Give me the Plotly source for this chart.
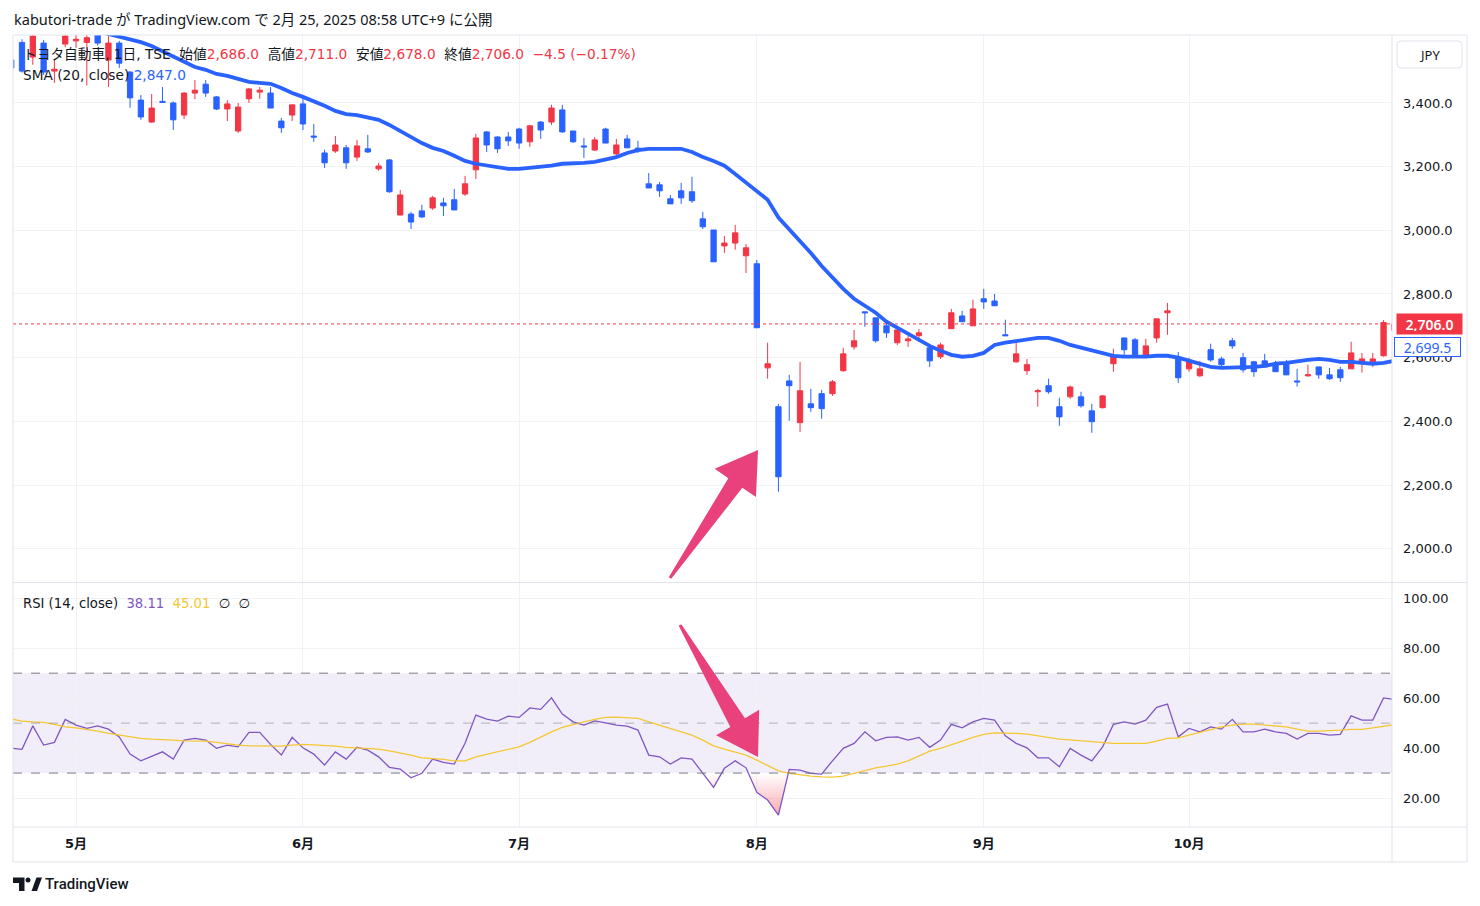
import math
import plotly.graph_objects as go

# ---------------- data ----------------
bar_index = list(range(-1, 128))

opens = [3535, 3590, 3544, 3588, 3500, 3585, 3595, 3590, 3615, 3535,
         3588, 3497, 3409, 3340, 3405, 3400, 3362, 3431, 3459, 3419,
         3381, 3312, 3413, 3434, 3431, 3343, 3362, 3397, 3296, 3243,
         3249, 3259, 3230, 3256, 3193, 3221, 3048, 3051, 3061, 3070,
         3086, 3096, 3114, 3190, 3309, 3293, 3293, 3318, 3278, 3340,
         3340, 3378, 3312, 3265, 3252, 3318, 3240, 3287, 3258, 3146,
         3143, 3099, 3124, 3121, 3036, 3001, 2951, 2960, 2920, 2895,
         2568, 2446, 2527, 2396, 2455, 2487, 2487, 2559, 2634, 2744,
         2725, 2700, 2647, 2653, 2669, 2631, 2603, 2691, 2731, 2700,
         2785, 2778, 2672, 2587, 2559, 2493, 2512, 2446, 2477, 2477,
         2433, 2443, 2581, 2662, 2656, 2603, 2662, 2741, 2596, 2565,
         2543, 2625, 2596, 2653, 2600, 2587, 2590, 2578, 2584, 2527,
         2543, 2571, 2546, 2562, 2565, 2584, 2587, 2606, 2686]
highs = [3545, 3600, 3615, 3598, 3535, 3625, 3620, 3620, 3620, 3620,
         3595, 3500, 3425, 3428, 3450, 3405, 3434, 3472, 3472, 3422,
         3409, 3400, 3447, 3450, 3450, 3353, 3394, 3413, 3334, 3253,
         3296, 3268, 3284, 3300, 3212, 3224, 3127, 3058, 3080, 3108,
         3102, 3130, 3171, 3303, 3312, 3296, 3309, 3322, 3331, 3343,
         3394, 3394, 3312, 3290, 3293, 3322, 3287, 3300, 3281, 3180,
         3152, 3111, 3149, 3168, 3058, 3001, 2982, 3017, 2957, 2907,
         2647, 2455, 2546, 2587, 2502, 2499, 2530, 2631, 2687, 2744,
         2725, 2709, 2697, 2669, 2690, 2631, 2647, 2753, 2747, 2782,
         2816, 2800, 2719, 2650, 2596, 2502, 2534, 2474, 2512, 2493,
         2455, 2483, 2628, 2662, 2662, 2659, 2722, 2772, 2618, 2600,
         2590, 2644, 2603, 2662, 2615, 2590, 2612, 2590, 2593, 2565,
         2578, 2571, 2568, 2571, 2650, 2615, 2615, 2718, 2711]
lows = [3500, 3495, 3520, 3488, 3463, 3575, 3573, 3455, 3580, 3450,
        3510, 3385, 3347, 3338, 3400, 3315, 3350, 3412, 3419, 3378,
        3343, 3306, 3400, 3413, 3384, 3306, 3343, 3315, 3278, 3196,
        3243, 3193, 3218, 3243, 3187, 3118, 3048, 3004, 3039, 3064,
        3045, 3064, 3108, 3161, 3246, 3243, 3265, 3256, 3262, 3287,
        3331, 3306, 3274, 3227, 3249, 3274, 3234, 3259, 3243, 3133,
        3105, 3083, 3083, 3086, 3004, 2901, 2929, 2939, 2866, 2694,
        2534, 2179, 2402, 2367, 2430, 2408, 2480, 2556, 2625, 2697,
        2647, 2662, 2640, 2634, 2650, 2571, 2596, 2691, 2713, 2700,
        2753, 2763, 2669, 2584, 2546, 2446, 2487, 2386, 2471, 2443,
        2364, 2440, 2556, 2606, 2606, 2603, 2647, 2672, 2521, 2556,
        2540, 2587, 2568, 2628, 2553, 2540, 2571, 2556, 2546, 2509,
        2540, 2534, 2530, 2524, 2565, 2553, 2571, 2603, 2678]
closes = [3510, 3500, 3610, 3497, 3506, 3610, 3600, 3605, 3588, 3588,
          3525, 3416, 3356, 3384, 3402, 3347, 3431, 3440, 3431, 3381,
          3397, 3387, 3444, 3440, 3384, 3322, 3394, 3334, 3293, 3212,
          3268, 3212, 3265, 3246, 3202, 3121, 3111, 3026, 3042, 3102,
          3077, 3064, 3146, 3290, 3268, 3256, 3281, 3274, 3328, 3315,
          3384, 3309, 3278, 3262, 3284, 3274, 3268, 3259, 3255, 3133,
          3124, 3083, 3102, 3093, 3011, 2901, 2960, 2992, 2945, 2694,
          2581, 2226, 2512, 2496, 2443, 2440, 2524, 2612, 2653, 2741,
          2653, 2678, 2687, 2659, 2678, 2590, 2640, 2741, 2713, 2753,
          2775, 2763, 2669, 2612, 2578, 2496, 2493, 2414, 2508, 2449,
          2399, 2480, 2606, 2625, 2609, 2637, 2722, 2747, 2537, 2590,
          2565, 2593, 2578, 2637, 2562, 2556, 2571, 2556, 2546, 2524,
          2546, 2546, 2534, 2537, 2615, 2596, 2596, 2710.5, 2706]

sma20 = [None] * 8 + [
    3625, 3617, 3607, 3598, 3591, 3579, 3563, 3548, 3529, 3513,
    3504, 3491, 3485, 3475, 3466, 3463, 3460, 3447, 3431, 3419,
    3406, 3391, 3375, 3365, 3362, 3356, 3347, 3331, 3312, 3293,
    3274, 3259, 3249, 3234, 3218, 3209, 3203, 3196, 3193, 3193,
    3196, 3199, 3203, 3209, 3209, 3212, 3215, 3221, 3230, 3243,
    3252, 3256, 3256, 3256, 3256, 3246, 3230, 3218, 3203, 3177,
    3149, 3124, 3096, 3040, 3004, 2965, 2929, 2888, 2852, 2816,
    2785, 2763, 2741, 2713, 2694, 2675, 2656, 2637, 2622, 2609,
    2603, 2606, 2615, 2640, 2647, 2653, 2659, 2662, 2662, 2653,
    2640, 2631, 2622, 2612, 2606, 2603, 2603, 2603, 2606, 2606,
    2600, 2590, 2581, 2571, 2568, 2568, 2568, 2571, 2574, 2581,
    2584, 2590, 2593, 2596, 2593, 2587, 2587, 2584, 2581, 2584, 2590]

rsi = [40.0, 39.5, 48.9, 41.2, 42.3, 51.5, 49.2, 47.9, 48.9, 47.6,
       44.5, 37.6, 34.9, 36.8, 38.5, 35.6, 43.2, 43.9, 43.2, 39.9,
       41.2, 40.5, 46.3, 46.3, 41.5, 37.2, 44.3, 40.1, 37.6, 33.2,
       38.5, 35.6, 40.3, 39.2, 36.5, 32.3, 31.6, 28.1, 29.9, 35.6,
       34.3, 33.6, 41.9, 53.2, 51.6, 50.8, 52.8, 52.3, 56.1, 55.5,
       60.1, 53.6, 50.5, 49.2, 50.9, 50.1, 49.2, 48.8, 47.2, 37.2,
       36.5, 33.6, 36.1, 35.6, 29.9, 24.3, 31.9, 34.9, 32.1, 22.3,
       19.2, 13.2, 31.5, 31.2, 29.9, 29.6, 34.9, 39.9, 41.9, 46.5,
       42.9, 44.3, 44.5, 43.2, 44.3, 40.3, 43.2, 49.5, 48.1, 50.5,
       51.9, 51.2, 44.9, 41.9, 40.1, 36.1, 36.1, 32.5, 39.9, 37.2,
       34.9, 40.5, 49.5, 50.5, 49.6, 51.2, 56.3, 57.6, 44.5, 47.9,
       46.5, 48.5, 47.6, 51.5, 46.5, 46.5, 47.6, 46.5, 45.9, 43.6,
       45.9, 45.9, 45.2, 45.5, 52.9, 51.2, 51.2, 60.1, 59.5]

rsi_ma = [51.7, 50.8, 50.5, 50.3, 49.5, 48.5, 48.1, 47.5, 46.8, 45.9,
          45.2, 44.5, 43.9, 43.6, 43.5, 43.2, 42.9, 42.9, 42.8, 42.3,
          41.6, 41.2, 40.9, 40.8, 40.7, 40.8, 41.2, 41.5, 41.3, 41.2,
          40.8, 40.3, 40.1, 39.9, 39.6, 38.9, 38.1, 37.2, 36.1, 35.9,
          35.5, 34.9, 34.9, 36.5, 37.5, 38.5, 39.5, 40.5, 42.3, 44.5,
          46.5, 48.3, 49.5, 50.5, 51.5, 52.3, 52.4, 52.3, 51.9, 50.5,
          49.2, 47.9, 46.5, 45.2, 43.2, 40.9, 39.6, 38.5, 37.2, 35.2,
          33.2, 30.9, 29.9, 29.2, 28.8, 28.5, 28.4, 28.8, 29.9, 31.2,
          32.1, 32.8, 33.6, 34.9, 36.8, 38.8, 39.9, 41.2, 42.8, 44.3,
          45.5, 46.1, 46.1, 45.9, 45.6, 44.9, 44.3, 43.6, 43.3, 42.9,
          42.5, 42.0, 41.9, 41.9, 41.9, 41.9, 42.8, 43.9, 44.1, 45.2,
          46.5, 47.5, 48.5, 49.2, 49.6, 49.6, 49.2, 48.9, 48.5, 47.6,
          46.8, 46.8, 46.9, 47.2, 47.5, 47.5, 48.1, 48.9, 49.4]

month_pos = [5, 26, 46, 68, 89, 108]
month_labels = ["5月", "6月", "7月", "8月", "9月", "10月"]
price_ticks = [2000, 2200, 2400, 2600, 2800, 3000, 3200, 3400]
rsi_ticks = [20, 40, 60, 80, 100]
rsi_levels = {"upper": 70, "middle": 50, "lower": 30}
sma_label_value = 2699.5

assert len(opens) == len(highs) == len(lows) == len(closes) == len(bar_index)
assert len(sma20) == len(rsi) == len(rsi_ma) == len(bar_index)

# ---------------- styling ----------------
UP = "#F23645"
DOWN = "#2962FF"
TEXT = "#131722"
GRID = "#F0F2F6"
FRAME = "#E0E3EB"
RSI_C = "#7E57C2"
RSI_MA_C = "#F5C733"
ARROW_C = "#E8417B"
FONT = "'DejaVu Sans', 'Noto Sans CJK JP', sans-serif"
FONT_N = "'Noto Sans', 'Noto Sans CJK JP', sans-serif"

FIG_W, FIG_H = 1480, 906
PL, PR, PT, PB = 13, 1392, 35, 827   # plot area in pixels
SPLIT = 582.5                         # pane separator (px)


def px(x):
    return (x - PL) / (PR - PL)


def py(y):
    return (PB - y) / (PB - PT)


X_RANGE = [-0.833, 126.78]

fig = go.Figure()

# candles
fig.add_trace(go.Candlestick(
    x=bar_index, open=opens, high=highs, low=lows, close=closes,
    increasing=dict(line=dict(color=UP, width=1), fillcolor=UP),
    decreasing=dict(line=dict(color=DOWN, width=1), fillcolor=DOWN),
    whiskerwidth=0, xaxis="x", yaxis="y", showlegend=False, hoverinfo="skip"))

# SMA 20
fig.add_trace(go.Scatter(
    x=bar_index, y=sma20, mode="lines", line=dict(color=DOWN, width=3.8),
    xaxis="x", yaxis="y", showlegend=False, hoverinfo="skip", connectgaps=False))

# oversold gradient fill (RSI below 30)
level = rsi_levels["lower"]
segs, cur = [], []
for i in range(len(bar_index)):
    xv, yv = bar_index[i], rsi[i]
    if i > 0:
        x0, y0 = bar_index[i - 1], rsi[i - 1]
        if (y0 - level) * (yv - level) < 0:
            xc = x0 + (level - y0) * (xv - x0) / (yv - y0)
            cur.append((xc, level))
            if yv > level:
                segs.append(cur)
                cur = []
    if yv < level:
        cur.append((xv, yv))
if cur:
    segs.append(cur)
for seg in segs:
    fig.add_trace(go.Scatter(
        x=[p[0] for p in seg], y=[p[1] for p in seg], mode="lines",
        line=dict(width=0), fill="toself",
        fillgradient=dict(type="vertical",
                          colorscale=[[0, "rgba(242,54,69,0.55)"], [1, "rgba(242,54,69,0.0)"]],
                          start=8, stop=level),
        xaxis="x2", yaxis="y2", showlegend=False, hoverinfo="skip"))

# RSI + RSI MA
fig.add_trace(go.Scatter(
    x=bar_index, y=rsi, mode="lines", line=dict(color=RSI_C, width=1.3),
    xaxis="x2", yaxis="y2", showlegend=False, hoverinfo="skip"))
fig.add_trace(go.Scatter(
    x=bar_index, y=rsi_ma, mode="lines", line=dict(color=RSI_MA_C, width=1.3),
    xaxis="x2", yaxis="y2", showlegend=False, hoverinfo="skip"))

shapes = []
# RSI band background + level lines
shapes.append(dict(type="rect", xref="x2 domain", yref="y2", x0=0, x1=1,
                   y0=rsi_levels["lower"], y1=rsi_levels["upper"],
                   fillcolor="rgba(126,87,194,0.1)", line=dict(width=0), layer="below"))
for key, col in (("upper", "#787B86"), ("lower", "#787B86"), ("middle", "rgba(120,123,134,0.55)")):
    shapes.append(dict(type="line", xref="x2 domain", yref="y2", x0=0, x1=1,
                       y0=rsi_levels[key], y1=rsi_levels[key],
                       line=dict(color=col, width=1, dash="dash"), layer="above"))
# last price dotted line
shapes.append(dict(type="line", xref="x domain", yref="y", x0=0, x1=1,
                   y0=closes[-1], y1=closes[-1],
                   line=dict(color=UP, width=1, dash="dot"), layer="above"))

# frame lines
RIGHT_EDGE = 1467
BOTTOM_EDGE = 862
frame_lines = [
    ((PL, PT), (RIGHT_EDGE, PT)),
    ((PL, BOTTOM_EDGE), (RIGHT_EDGE, BOTTOM_EDGE)),
    ((PL, PT), (PL, BOTTOM_EDGE)),
    ((RIGHT_EDGE, PT), (RIGHT_EDGE, BOTTOM_EDGE)),
    ((PR, PT), (PR, BOTTOM_EDGE)),
    ((PL, PB), (RIGHT_EDGE, PB)),
    ((PL, SPLIT), (RIGHT_EDGE, SPLIT)),
]
for (xa, ya), (xb, yb) in frame_lines:
    shapes.append(dict(type="line", xref="paper", yref="paper",
                       x0=px(xa), y0=py(ya), x1=px(xb), y1=py(yb),
                       line=dict(color=FRAME, width=1), layer="above"))


def arrow_path(tail, tip, head_len, head_half, shaft_half_tip, shaft_half_tail):
    tx, ty = tail
    hx, hy = tip
    dx, dy = hx - tx, hy - ty
    ln = math.hypot(dx, dy)
    ux, uy = dx / ln, dy / ln
    nx, ny = -uy, ux
    bx, by = hx - ux * head_len, hy - uy * head_len
    pts = [(tx - nx * shaft_half_tail, ty - ny * shaft_half_tail),
           (bx - nx * shaft_half_tip, by - ny * shaft_half_tip),
           (bx - nx * head_half, by - ny * head_half),
           (hx, hy),
           (bx + nx * head_half, by + ny * head_half),
           (bx + nx * shaft_half_tip, by + ny * shaft_half_tip),
           (tx + nx * shaft_half_tail, ty + ny * shaft_half_tail)]
    return "M " + " L ".join(f"{px(x):.5f},{py(y):.5f}" for x, y in pts) + " Z"


arrows = [dict(tail=(670, 578), tip=(758, 450)),
          dict(tail=(680, 625), tip=(758, 757))]
for a in arrows:
    shapes.append(dict(type="path", xref="paper", yref="paper",
                       path=arrow_path(a["tail"], a["tip"], 40, 25, 8.5, 1.5),
                       fillcolor=ARROW_C, line=dict(width=0), layer="above"))


def rounded_rect(x0, y0, x1, y1, r):
    X = lambda v: f"{px(v):.5f}"
    Y = lambda v: f"{py(v):.5f}"
    return (f"M {X(x0 + r)},{Y(y0)} L {X(x1 - r)},{Y(y0)} Q {X(x1)},{Y(y0)} {X(x1)},{Y(y0 + r)} "
            f"L {X(x1)},{Y(y1 - r)} Q {X(x1)},{Y(y1)} {X(x1 - r)},{Y(y1)} "
            f"L {X(x0 + r)},{Y(y1)} Q {X(x0)},{Y(y1)} {X(x0)},{Y(y1 - r)} "
            f"L {X(x0)},{Y(y0 + r)} Q {X(x0)},{Y(y0)} {X(x0 + r)},{Y(y0)} Z")


# JPY button
shapes.append(dict(type="path", xref="paper", yref="paper",
                   path=rounded_rect(1397, 41, 1462, 68, 4),
                   fillcolor="white", line=dict(color=FRAME, width=1), layer="above"))

# TradingView logo (simplified)
logo_parts = [
    [(13, 877.5), (24.5, 877.5), (24.5, 891), (19, 891), (19, 883), (13, 883)],
    [(31.5, 891), (36.5, 877.5), (42, 877.5), (37, 891)],
]
for part in logo_parts:
    shapes.append(dict(type="path", xref="paper", yref="paper",
                       path="M " + " L ".join(f"{px(x):.5f},{py(y):.5f}" for x, y in part) + " Z",
                       fillcolor=TEXT, line=dict(width=0), layer="above"))
shapes.append(dict(type="circle", xref="paper", yref="paper",
                   x0=px(25.5), x1=px(30.5), y0=py(882.5), y1=py(877.5),
                   fillcolor=TEXT, line=dict(width=0), layer="above"))

annotations = []


def sp(n=2):
    return "\u00a0" * n


def col(text, c):
    return f"<span style='color:{c}'>{text}</span>"


annotations.append(dict(
    xref="paper", yref="paper", x=px(12), y=py(19), xanchor="left", yanchor="middle",
    text="kabutori-trade が TradingView.com で 2月 25, 2025 08:58 UTC+9 に公開",
    showarrow=False, font=dict(size=14.5, color=TEXT, family=FONT_N)))

line1 = ("トヨタ自動車, 1日, TSE" + sp() + "始値" + col("2,686.0", UP) + sp() + "高値" + col("2,711.0", UP)
         + sp() + "安値" + col("2,678.0", UP) + sp() + "終値" + col("2,706.0", UP) + sp()
         + col("−4.5 (−0.17%)", UP))
annotations.append(dict(xref="paper", yref="paper", x=px(21), y=py(54), xanchor="left", yanchor="middle",
                        text=line1, showarrow=False, font=dict(size=13.7, color=TEXT, family=FONT)))
annotations.append(dict(xref="paper", yref="paper", x=px(21), y=py(75), xanchor="left", yanchor="middle",
                        text="SMA (20, close) " + col("2,847.0", DOWN), showarrow=False,
                        font=dict(size=13.7, color=TEXT, family=FONT)))
annotations.append(dict(xref="paper", yref="paper", x=px(21), y=py(603), xanchor="left", yanchor="middle",
                        text="RSI (14, close)" + sp() + col("38.11", RSI_C) + sp() + col("45.01", RSI_MA_C)
                        + sp() + "∅" + sp() + "∅",
                        showarrow=False, font=dict(size=13.2, color=TEXT, family=FONT)))

# price scale labels
annotations.append(dict(xref="paper", yref="y", x=px(1396), y=closes[-1], xanchor="left", yanchor="middle",
                        text=f"{closes[-1]:,.1f}", showarrow=False, bgcolor=UP, borderpad=3,
                        width=59, height=14, align="center",
                        font=dict(size=14, color="white", family=FONT_N, weight=600)))
annotations.append(dict(xref="paper", yref="y", x=px(1394), y=sma_label_value, xanchor="left",
                        yanchor="middle", yshift=-21,
                        text=f"{sma_label_value:,.1f}", showarrow=False, bgcolor="white",
                        bordercolor=DOWN, borderwidth=1, borderpad=2,
                        width=61, height=14, align="center",
                        font=dict(size=14, color=DOWN, family=FONT_N)))
annotations.append(dict(xref="paper", yref="paper", x=px(1429.5), y=py(54.5), xanchor="center",
                        yanchor="middle", text="JPY", showarrow=False,
                        font=dict(size=13, color=TEXT, family=FONT_N)))
annotations.append(dict(xref="paper", yref="paper", x=px(43), y=py(884), xanchor="left", yanchor="middle",
                        text="TradingView", showarrow=False,
                        font=dict(size=15, color=TEXT, family="Roboto, sans-serif", weight=500)))

price_dom = [py(SPLIT) + 0.001, 1]
rsi_dom = [0, py(SPLIT) - 0.001]

fig.update_layout(
    width=FIG_W, height=FIG_H,
    margin=dict(l=PL, r=FIG_W - PR, t=PT, b=FIG_H - PB),
    paper_bgcolor="white", plot_bgcolor="white",
    font=dict(family=FONT, size=13, color=TEXT),
    showlegend=False,
    xaxis=dict(domain=[0, 1], anchor="y", range=X_RANGE, tickvals=month_pos, ticktext=month_labels,
               showticklabels=False, showgrid=True, gridcolor=GRID, gridwidth=1, zeroline=False,
               showline=False, ticks="", rangeslider=dict(visible=False)),
    yaxis=dict(domain=price_dom, anchor="x", side="right", range=[1896.4, 3613.4],
               tickvals=price_ticks, ticktext=[f"{v:,.1f}" for v in price_ticks],
               showgrid=True, gridcolor=GRID, zeroline=False, showline=False, ticks="",
               ticklabelstandoff=10, tickfont=dict(size=13, color=TEXT, family=FONT)),
    xaxis2=dict(domain=[0, 1], anchor="y2", range=X_RANGE, tickvals=month_pos, ticktext=month_labels,
                showgrid=True, gridcolor=GRID, zeroline=False, showline=False, ticks="",
                ticklabelstandoff=7, tickfont=dict(size=13, color=TEXT, family=FONT, weight=700)),
    yaxis2=dict(domain=rsi_dom, anchor="x2", side="right", range=[8.4, 106],
                tickvals=rsi_ticks, ticktext=[f"{v:.2f}" for v in rsi_ticks],
                showgrid=True, gridcolor=GRID, zeroline=False, showline=False, ticks="",
                ticklabelstandoff=10, tickfont=dict(size=13, color=TEXT, family=FONT)),
    shapes=shapes,
    annotations=annotations,
)

fig.write_html("out.html", config={"displayModeBar": False})
